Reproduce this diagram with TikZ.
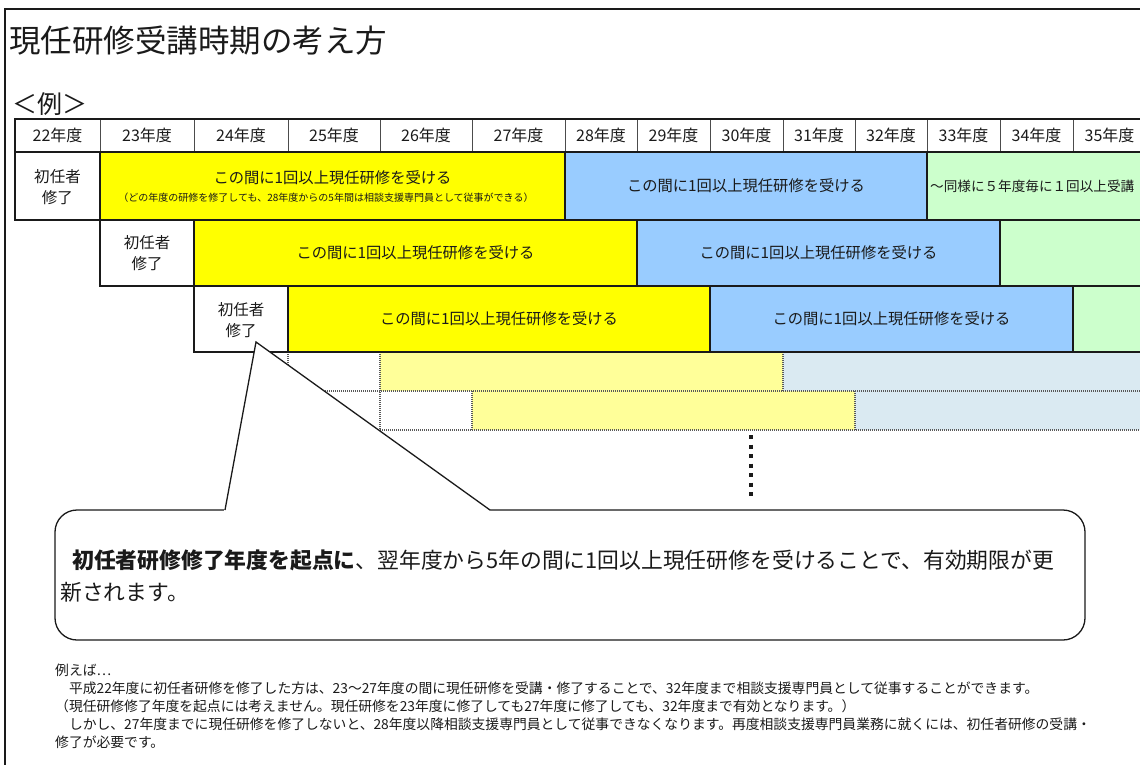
\documentclass[tikz,border=0pt]{standalone}
\usepackage{fontspec}
\setmainfont{Noto Sans CJK JP}
\definecolor{cyellow}{HTML}{FFFF00}
\definecolor{cblue}{HTML}{99CCFF}
\definecolor{cgreen}{HTML}{CCFFCC}
\definecolor{pyellow}{HTML}{FFFF99}
\definecolor{pblue}{HTML}{DAEAF2}
\definecolor{ink}{HTML}{1A1A1A}
\begin{document}
\begin{tikzpicture}[x=1pt,y=-1pt,
  cell/.style={draw=ink, line width=1.6pt},
  hcell/.style={draw=black!70, line width=0.9pt, fill=white},
  dline/.style={draw=black!65, line width=1.1pt, dash pattern=on 1.1pt off 0.9pt},
  hdr/.style={inner sep=0pt, text=ink, font=\fontsize{16}{18}\selectfont},
  lbl/.style={inner sep=0pt, text=ink, font=\fontsize{15.3}{18}\selectfont},
  boxlbl/.style={inner sep=0pt, text=ink, align=center, font=\fontsize{15.5}{21}\selectfont},
  sub/.style={inner sep=0pt, text=ink, font=\fontsize{10}{12}\selectfont},
  calltxt/.style={inner sep=0pt, anchor=west, text=ink, font=\fontsize{21.8}{26}\selectfont},
  extxt/.style={inner sep=0pt, anchor=west, text=ink, font=\fontsize{13.8}{17}\selectfont},
  callout/.style={draw=ink, line width=1.3pt}
]
\path[use as bounding box] (0,0) rectangle (1140,765);
\clip (0,0) rectangle (1140,765);

% title
\node[inner sep=0pt, anchor=west, text=ink, font=\fontsize{31.5}{36}\selectfont] (title) at (9,41) {現任研修受講時期の考え方};
\node[inner sep=0pt, anchor=west, text=ink, font=\fontsize{25}{28}\selectfont] (rei) at (12,104) {＜例＞};

% header row
\foreach \a/\b/\yr in {15/100/22,100/194/23,194/288/24,288/380/25,380/472/26,472/565/27,565/637/28,637/710/29,710/783/30,783/855/31,855/927/32,927/1000/33,1000/1073/34,1073/1146/35}{
  \draw[hcell] (\a,119) rectangle (\b,152);
  \node[hdr] (h\yr) at ({(\a+\b)/2},135.5) {\yr{}年度};
}
\draw[ink, line width=1.5pt] (15,152) -- (15,119) -- (1146,119);

% dotted rows
\fill[white] (288,352) rectangle (380,391);
\fill[pyellow] (380,352) rectangle (783,391);
\fill[pblue] (783,352) rectangle (1150,391);
\fill[white] (380,391) rectangle (472,430);
\fill[pyellow] (472,391) rectangle (855,430);
\fill[pblue] (855,391) rectangle (1150,430);
\draw[dline] (288,352) -- (288,391) -- (1150,391);
\draw[dline] (380,352) -- (380,430) -- (1150,430);
\draw[dline] (783,352) -- (783,391);
\draw[dline] (472,391) -- (472,430);
\draw[dline] (855,391) -- (855,430);

% row 1
\draw[cell, fill=white] (15,152) rectangle (100,220);
\draw[cell, fill=cyellow] (100,152) rectangle (565,220);
\draw[cell, fill=cblue] (565,152) rectangle (927,220);
\draw[cell, fill=cgreen] (927,152) rectangle (1150,220);
\node[boxlbl] (r1box) at (57.5,187) {初任者\\修了};
\node[lbl] (r1y) at (332.5,178) {この間に1回以上現任研修を受ける};
\node[sub] (r1ysub) at (326,198) {（どの年度の研修を修了しても、28年度からの5年間は相談支援専門員として従事ができる）};
\node[lbl] (r1b) at (746,186) {この間に1回以上現任研修を受ける};
\node[lbl, anchor=west, font=\fontsize{13.6}{16}\selectfont] (r1g) at (930,186) {～同様に５年度毎に１回以上受講};

% row 2
\draw[cell, fill=white] (100,220) rectangle (194,286);
\draw[cell, fill=cyellow] (194,220) rectangle (637,286);
\draw[cell, fill=cblue] (637,220) rectangle (1000,286);
\draw[cell, fill=cgreen] (1000,220) rectangle (1150,286);
\node[boxlbl] (r2box) at (147,253) {初任者\\修了};
\node[lbl] (r2y) at (415.5,253) {この間に1回以上現任研修を受ける};
\node[lbl] (r2b) at (818.5,253) {この間に1回以上現任研修を受ける};

% row 3
\draw[cell, fill=white] (194,286) rectangle (288,352);
\draw[cell, fill=cyellow] (288,286) rectangle (710,352);
\draw[cell, fill=cblue] (710,286) rectangle (1073,352);
\draw[cell, fill=cgreen] (1073,286) rectangle (1150,352);
\node[boxlbl] (r3box) at (241,320) {初任者\\修了};
\node[lbl] (r3y) at (499,319) {この間に1回以上現任研修を受ける};
\node[lbl] (r3b) at (891.5,319) {この間に1回以上現任研修を受ける};

% vertical dots
\draw[ink, line width=4pt, dash pattern=on 4pt off 5.5pt] (751,435) -- (751,498);

% callout
\draw[callout, fill=white, rounded corners=22pt] (55,510) rectangle (1085,640);
\fill[white] (224,511.5) -- (256,342) -- (491,511.5) -- cycle;
\draw[callout, line join=miter] (225,510) -- (256,342) -- (490,510);
\node[calltxt] (call1) at (72,560) {\textbf{初任者研修修了年度を起点に}、翌年度から5年の間に1回以上現任研修を受けることで、有効期限が更};
\node[calltxt] (call2) at (60,592) {新されます。};

% example text
\node[extxt] (ex0) at (55,670) {例えば…};
\node[extxt] (ex1) at (55,688) {　平成22年度に初任者研修を修了した方は、23～27年度の間に現任研修を受講・修了することで、32年度まで相談支援専門員として従事することができます。};
\node[extxt] (ex2) at (55,706) {（現任研修修了年度を起点には考えません。現任研修を23年度に修了しても27年度に修了しても、32年度まで有効となります。）};
\node[extxt] (ex3) at (55,724) {　しかし、27年度までに現任研修を修了しないと、28年度以降相談支援専門員として従事できなくなります。再度相談支援専門員業務に就くには、初任者研修の受講・};
\node[extxt] (ex4) at (55,742) {修了が必要です。};

% frame
\draw[ink, line width=2pt] (5,770) -- (5,9.5) -- (1145,9.5);
\end{tikzpicture}
\end{document}
